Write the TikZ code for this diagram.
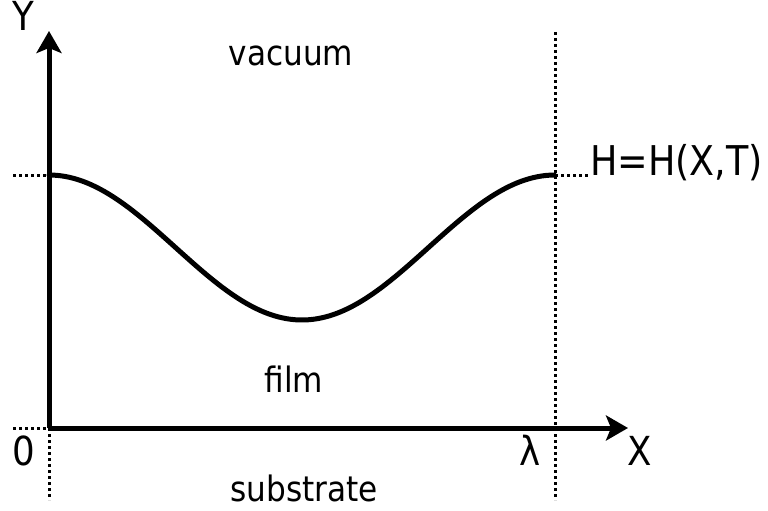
\documentclass[tikz,border=0pt]{standalone}
\usepackage{fontspec}
\setmainfont{DejaVu Sans}[FakeStretch=0.89]
\usetikzlibrary{arrows.meta}
\begin{document}
\begin{tikzpicture}[x=1pt,y=-1pt,
  axis/.style={line width=5pt,-{Stealth[length=22pt,width=25pt,inset=5pt]}},
  dotline/.style={line width=3pt,dash pattern=on 3pt off 3pt},
  curve/.style={line width=5pt},
  word/.style={font=\fontsize{35}{40}\selectfont,inner sep=0pt,anchor=base},
  lab/.style={font=\fontsize{40}{46}\selectfont,inner sep=0pt,anchor=base}]
\useasboundingbox (0,0) rectangle (768,511);
\coordinate (O) at (49,428);
\coordinate (Ytip) at (49,31);
\coordinate (Xtip) at (628,428);
\coordinate (Htop) at (49,175);
\coordinate (Lam) at (555,175);
\coordinate (Ltop) at (555,32);
\coordinate (Lbot) at (555,500);
\coordinate (Obot) at (49,500);
\coordinate (OL) at (13,428);
\coordinate (HL) at (13,175);
\coordinate (HR) at (590,175);
% dotted guides
\draw[dotline] (Ltop) -- (Lbot);
\draw[dotline] (O) -- (Obot);
\draw[dotline] (OL) -- (O);
\draw[dotline] (HL) -- (Htop);
\draw[dotline] (Lam) -- (HR);
% axes
\draw[axis] (O) -- (Ytip);
\draw[axis] (O) -- (Xtip);
% film surface
\draw[curve,line cap=round] plot[domain=0:1,samples=120,smooth]
  ({49+506*\x},{247.5-72.5*cos(360*\x)});
% labels
\node[lab] (ylab) at (23,31) {Y};
\node[lab] (xlab) at (640,465) {X};
\node[lab] (zero) at (24,465) {0};
\node[lab] (lam) at (530,465) {λ};
\node[lab,anchor=base west,font=\fontsize{41}{46}\selectfont] (hlab) at (590,175) {H=H(X,T)};
\node[word] (vac) at (291,66) {vacuum};
\node[word] (film) at (294,392) {film};
\node[word] (sub) at (304,501) {substrate};
\end{tikzpicture}
\end{document}
